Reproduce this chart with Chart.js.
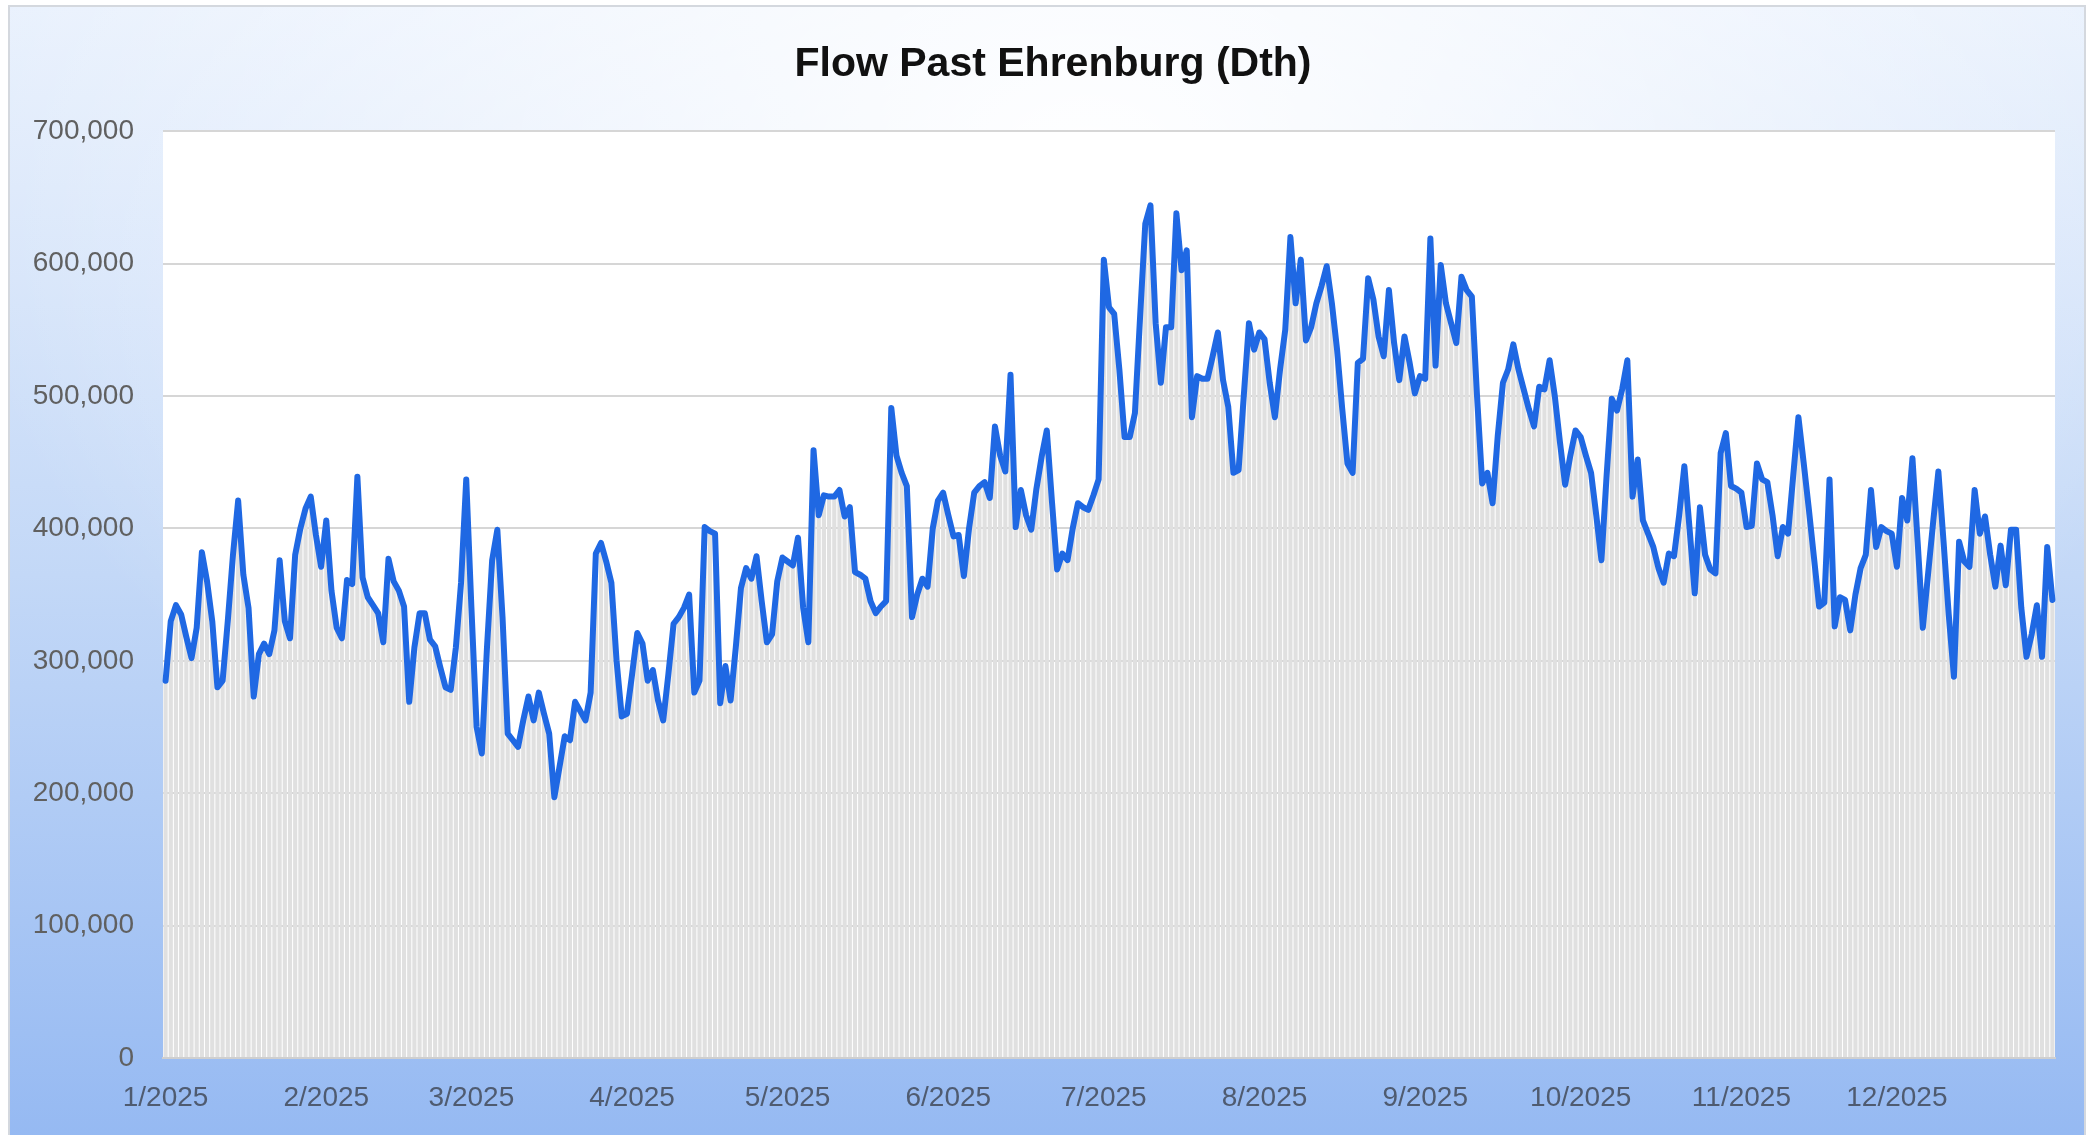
<!DOCTYPE html>
<html><head><meta charset="utf-8">
<script src="https://cdn.jsdelivr.net/npm/chart.js@4.4.1/dist/chart.umd.min.js"></script>
<style>
html,body{margin:0;padding:0;width:2094px;height:1135px;overflow:hidden;background:#fff;}
#frame{position:absolute;left:8px;top:5px;width:2078px;height:1140px;border:2px solid #d4d8de;box-sizing:border-box;
background: radial-gradient(ellipse 55% 70% at 52% 14%, rgba(255,255,255,1) 0%, rgba(255,255,255,0.55) 45%, rgba(255,255,255,0) 100%), linear-gradient(to bottom, #e9f1fd 0%, #c3d8f7 50%, #95b9f2 100%);}
#c{position:absolute;left:0;top:0;}
</style></head><body>
<div id="frame"></div>
<canvas id="c" width="2094" height="1135"></canvas>
<script>
const chartTitle = 'Flow Past Ehrenburg (Dth)';
const year = 2025;
const monthTickLabels = ['1/2025','2/2025','3/2025','4/2025','5/2025','6/2025','7/2025','8/2025','9/2025','10/2025','11/2025','12/2025'];
const yTickValues = [0,100000,200000,300000,400000,500000,600000,700000];
// daily flow, Dth
const flowDth = [
285000,330000,342000,335000,318000,302000,325000,382000,360000,330000,
280000,285000,330000,380000,421000,365000,340000,273000,305000,313000,
305000,323000,376000,330000,317000,380000,400000,415000,424000,395000,
371000,406000,353000,325000,317000,361000,358000,439000,363000,348000,
342000,336000,314000,377000,360000,353000,341000,269000,310000,336000,
336000,316000,311000,295000,280000,278000,310000,359000,437000,340000,
250000,230000,310000,376000,399000,333000,245000,240000,235000,255000,
273000,255000,276000,260000,245000,197000,220000,243000,240000,269000,
262000,255000,276000,381000,389000,375000,359000,300000,258000,260000,
290000,321000,313000,285000,293000,270000,255000,290000,328000,333000,
340000,350000,276000,285000,401000,398000,396000,268000,296000,270000,
310000,355000,370000,362000,379000,345000,314000,320000,360000,378000,
375000,372000,393000,340000,314000,459000,410000,425000,424000,424000,
429000,409000,416000,367000,365000,362000,345000,336000,341000,345000,
491000,455000,442000,432000,333000,350000,362000,356000,400000,421000,
427000,410000,394000,395000,364000,400000,427000,432000,435000,423000,
477000,455000,443000,516000,401000,429000,410000,399000,430000,454000,
474000,420000,369000,381000,376000,400000,419000,416000,414000,425000,
437000,603000,567000,562000,520000,469000,469000,487000,560000,630000,
644000,555000,510000,552000,552000,638000,595000,610000,484000,515000,
513000,513000,530000,548000,512000,492000,442000,444000,500000,555000,
535000,548000,543000,510000,484000,520000,550000,620000,570000,603000,
542000,552000,570000,583000,598000,570000,535000,490000,449000,442000,
525000,528000,589000,573000,545000,530000,580000,540000,512000,545000,
525000,502000,515000,513000,619000,523000,599000,570000,555000,540000,
590000,580000,575000,500000,434000,442000,419000,470000,510000,520000,
539000,520000,505000,490000,477000,507000,505000,527000,500000,465000,
433000,455000,474000,469000,455000,442000,410000,376000,440000,498000,
489000,505000,527000,424000,452000,406000,396000,386000,370000,359000,
381000,379000,410000,447000,400000,351000,416000,380000,369000,366000,
457000,472000,432000,430000,427000,401000,402000,449000,437000,435000,
410000,379000,401000,396000,440000,484000,450000,415000,378000,341000,
344000,437000,326000,348000,346000,323000,350000,370000,380000,429000,
386000,401000,398000,396000,371000,423000,406000,453000,390000,325000,
365000,405000,443000,390000,335000,288000,390000,375000,371000,429000,
396000,409000,380000,356000,387000,357000,399000,399000,340000,303000,
320000,342000,303000,386000,346000
];
// categories: every day of the year, as M/D/YYYY
const dayLabels = [];
for (let i = 0; i < flowDth.length; i++) {
  const d = new Date(year, 0, 1 + i);
  dayLabels.push((d.getMonth() + 1) + '/' + d.getDate() + '/' + d.getFullYear());
}

const plotBg = {id:'plotBg', beforeDraw(chart){
  const {ctx, chartArea:a} = chart;
  ctx.save(); ctx.fillStyle = '#ffffff';
  ctx.fillRect(a.left, a.top, a.right - a.left, a.bottom - a.top);
  ctx.restore();
}};

new Chart(document.getElementById('c'), {
  data: {
    labels: dayLabels,
    datasets: [
      {type:'line', data: flowDth, borderColor:'#1f68e3', borderWidth:6, pointRadius:0, tension:0,
       borderJoinStyle:'round', borderCapStyle:'round', order:0},
      {type:'bar', data: flowDth, backgroundColor:'#e0e0e0', borderWidth:0,
       barPercentage:0.8, categoryPercentage:1.0, order:1}
    ]
  },
  options: {
    responsive:false, devicePixelRatio:1, animation:false,
    layout:{padding:{left:20, right:8, top:0, bottom:0}},
    plugins:{
      legend:{display:false}, tooltip:{enabled:false},
      title:{display:true, text: chartTitle, color:'#111111',
        font:{family:'Liberation Sans', size:41, weight:'bold'}, padding:{top:40, bottom:42}}
    },
    scales:{
      x:{
        grid:{display:false, drawTicks:false},
        border:{display:true, color:'#cfcfcf', width:2},
        ticks:{autoSkip:false, maxRotation:0, minRotation:0, padding:23, color:'#4f5b70',
          font:{family:'Liberation Sans', size:28},
          callback:function(v, i){
            const d = new Date(year, 0, 1 + i);
            return d.getDate() === 1 ? monthTickLabels[d.getMonth()] : '';
          }},
        afterFit:function(s){ s.height = 77; }
      },
      y:{
        min:0, max:700000,
        grid:{color:'#d6d6d6', lineWidth:2, drawTicks:false},
        border:{display:false},
        afterBuildTicks:function(s){ s.ticks = yTickValues.map(v => ({value:v})); },
        ticks:{padding:29, color:'#606060', font:{family:'Liberation Sans', size:28},
          callback:function(v){ return v.toLocaleString('en-US'); }},
        afterFit:function(s){ s.width = 143; }
      },
      yRight:{
        position:'right', min:0, max:700000,
        grid:{display:false, drawTicks:false}, border:{display:false},
        ticks:{display:false},
        afterFit:function(s){ s.width = 31; }
      }
    }
  },
  plugins:[plotBg]
});
</script></body></html>
